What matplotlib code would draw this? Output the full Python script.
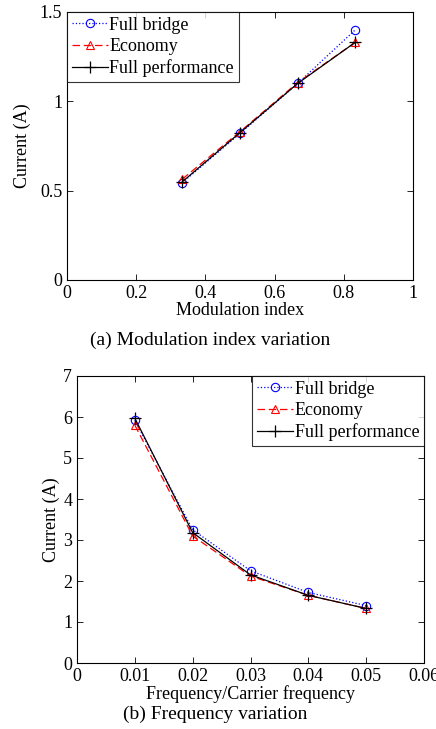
import numpy as np
import matplotlib.pyplot as plt

plt.rcParams['font.family'] = ['Liberation Serif', 'DejaVu Serif']
plt.rcParams['mathtext.fontset'] = 'stix'

# (a) modulation index variation
mod_index = [1/3, 0.5, 2/3, 0.833]
mod_full_bridge = [0.545, 0.82, 1.10, 1.40]
mod_economy = [0.565, 0.83, 1.105, 1.33]
mod_full_perf = [0.55, 0.825, 1.10, 1.33]

# (b) frequency variation
freq_ratio = [0.01, 0.02, 0.03, 0.04, 0.05]
freq_full_bridge = [5.92, 3.25, 2.25, 1.72, 1.40]
freq_economy = [5.80, 3.10, 2.12, 1.65, 1.33]
freq_full_perf = [5.97, 3.18, 2.15, 1.65, 1.33]

labels = ['Full bridge', 'Economy', 'Full performance']

fig = plt.figure(figsize=(4.36, 7.29), dpi=100)
W, H = 436, 729


def add_axes(left, top, right, bottom):
    return fig.add_axes([left / W, 1 - bottom / H, (right - left) / W, (bottom - top) / H])


def draw(ax, x, fb, eco, fp):
    ax.plot(x, fb, color='blue', linestyle=':', linewidth=0.9, marker='o',
            markersize=6, markerfacecolor='none', markeredgewidth=0.8, label=labels[0])
    ax.plot(x, eco, color='red', linestyle=(0, (6, 3)), linewidth=0.9, marker='^',
            markersize=6, markerfacecolor='none', markeredgewidth=0.8, label=labels[1])
    ax.plot(x, fp, color='black', linestyle='-', linewidth=0.9, marker='+',
            markersize=8, markeredgewidth=0.9, label=labels[2])
    ax.tick_params(direction='in', top=True, right=True, labelsize=13, length=4, width=0.6)
    for s in ax.spines.values():
        s.set_linewidth(0.8)


ax1 = add_axes(67, 12, 413, 280)
draw(ax1, mod_index, mod_full_bridge, mod_economy, mod_full_perf)
ax1.set_xlim(0, 1)
ax1.set_ylim(0, 1.5)
ax1.set_xticks([0, 0.2, 0.4, 0.6, 0.8, 1])
ax1.set_xticklabels(['0', '0.2', '0.4', '0.6', '0.8', '1'])
ax1.set_yticks([0, 0.5, 1, 1.5])
ax1.set_yticklabels(['0', '0.5', '1', '1.5'])
ax1.set_xlabel('Modulation index', fontsize=13, labelpad=0)
ax1.set_ylabel('Current (A)', fontsize=13, labelpad=6)
leg = ax1.legend(loc='upper left', fontsize=13, frameon=True, fancybox=False,
                 edgecolor='black', borderaxespad=0, handlelength=2.0,
                 handletextpad=0.1, borderpad=0.25, labelspacing=0.25)
leg.get_frame().set_linewidth(0.8)
fig.text(210 / W, 1 - 340 / H, '(a) Modulation index variation', fontsize=14,
         ha='center', va='center')

ax2 = add_axes(77, 376, 424, 663)
draw(ax2, freq_ratio, freq_full_bridge, freq_economy, freq_full_perf)
ax2.set_xlim(0, 0.06)
ax2.set_ylim(0, 7)
ax2.set_xticks([0, 0.01, 0.02, 0.03, 0.04, 0.05, 0.06])
ax2.set_xticklabels(['0', '0.01', '0.02', '0.03', '0.04', '0.05', '0.06'])
ax2.set_yticks(range(8))
ax2.set_xlabel('Frequency/Carrier frequency', fontsize=13, labelpad=0)
ax2.set_ylabel('Current (A)', fontsize=13, labelpad=2)
leg2 = ax2.legend(loc='upper right', fontsize=13, frameon=True, fancybox=False,
                  edgecolor='black', borderaxespad=0, handlelength=2.0,
                  handletextpad=0.1, borderpad=0.25, labelspacing=0.25)
leg2.get_frame().set_linewidth(0.8)
fig.text(215 / W, 1 - 714 / H, '(b) Frequency variation', fontsize=14,
         ha='center', va='center')

fig.savefig('out.png', dpi=100)
